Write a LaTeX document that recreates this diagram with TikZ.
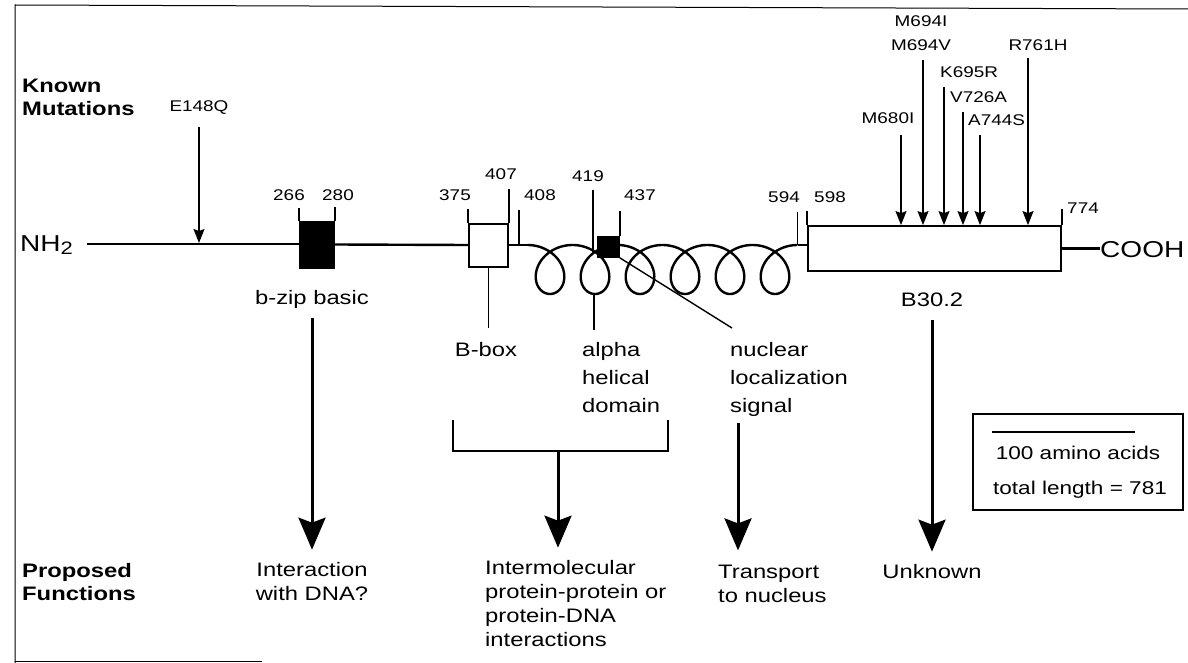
\documentclass[tikz,border=0pt]{standalone}
\usepackage{fontspec}
\setmainfont{Liberation Sans}[FakeStretch=1.22]
\usetikzlibrary{arrows.meta}
\tikzset{
 lbl/.style={font=\fontsize{19.5}{28}\selectfont, inner sep=0pt, align=left},
 lblc/.style={lbl, align=center},
 fun/.style={font=\fontsize{19.5}{24}\selectfont, inner sep=0pt, align=left},
 func/.style={fun, align=center},
 head/.style={font=\fontsize{19.5}{23}\selectfont\bfseries, inner sep=0pt, align=left},
 num/.style={font=\fontsize{15.5}{18}\selectfont, inner sep=0pt},
 mut/.style={font=\fontsize{15.5}{24}\selectfont, inner sep=0pt, align=center},
 term/.style={font=\fontsize{23}{26}\selectfont, inner sep=0pt},
 legtext/.style={font=\fontsize{18.5}{22}\selectfont, inner sep=0pt},
 backbone/.style={line width=2.4pt},
 tickline/.style={line width=1.6pt},
 domainbox/.style={draw, line width=1.8pt, inner sep=0pt},
 funarrow/.style={line width=3pt, -{Stealth[length=32pt,width=27pt,inset=5pt]}},
 mutarrow/.style={line width=1.3pt, -{Stealth[length=14pt,width=11pt,inset=2pt]}},
}
\begin{document}
\begin{tikzpicture}[x=1pt,y=-1pt]
\useasboundingbox (0,0) rectangle (1188,663);
% scanned frame
\draw[line width=1pt] (15,663) -- (15,5) -- (1188,9);
\draw[line width=1pt] (15,661) -- (262,661);

% headers (base anchor = last line)
\node[head, anchor=base west] (known) at (22,116) {Known\\Mutations};
\node[head, anchor=base west] (proposed) at (22,600) {Proposed\\Functions};

% terminals
\node[term, anchor=base west] (nh) at (20,251) {NH\raisebox{-3pt}{\fontsize{18}{18}\selectfont 2}};
\node[term, anchor=base west] (cooh) at (1100,257) {COOH};
\coordinate (l0) at (87,244);

% domains
\node[domainbox, fill=black, minimum width=34pt, minimum height=46pt] (bzip) at (317,245) {};
\node[domainbox, fill=white, minimum width=39pt, minimum height=43pt] (bbox) at (488.5,245.5) {};
\node[domainbox, fill=white, minimum width=253pt, minimum height=45pt] (b302) at (934.5,248.5) {};

% backbone
\coordinate (hs) at (527.5,245);
\coordinate (he) at (797.5,245);
\draw[backbone] (l0) -- (l0 -| bzip.west);
\draw[backbone] (bzip.east |- 0,244.5) -- (bbox.west |- 0,245);
\draw[backbone] (bbox.east |- hs) -- (hs);
\draw[backbone] plot[domain=-pi:11*pi, samples=500, smooth]
   ({550 + 7.162*\x - 24.5*sin(\x r)}, {269.5 + 24.5*cos(\x r)});
\draw[backbone] (he) -- (he -| b302.west);
\draw[backbone] (b302.east) -- (cooh.west |- b302.east);

% 419 line through helix and NLS box
\draw[tickline] (593,190) -- (593,253);
\node[domainbox, fill=black, minimum width=21pt, minimum height=20pt] (nls) at (608.5,247) {};

% ticks
\draw[tickline] (bzip.north west) -- ++(0,-13);
\draw[tickline] (bzip.north east) -- ++(0,-14);
\draw[tickline] (bbox.north west) -- ++(0,-14);
\draw[tickline] (bbox.north east) -- ++(0,-34);
\draw[tickline] (519,245) -- (519,210);
\draw[tickline] (nls.north east) -- ++(0,-25);
\draw[tickline] (he) -- ++(0,-33);
\draw[tickline] (b302.north west) -- ++(0,-14);
\draw[tickline] (b302.north east) -- ++(0,-16);

% residue numbers
\node[num, anchor=base] (n266) at (289,200.5) {266};
\node[num, anchor=base] (n280) at (338,200.5) {280};
\node[num, anchor=base] (n375) at (455,200.5) {375};
\node[num, anchor=base] (n407) at (501,179.5) {407};
\node[num, anchor=base] (n408) at (540,200.5) {408};
\node[num, anchor=base] (n419) at (588,181.5) {419};
\node[num, anchor=base] (n437) at (640,200.5) {437};
\node[num, anchor=base] (n594) at (784,202.5) {594};
\node[num, anchor=base] (n598) at (830,202.5) {598};
\node[num, anchor=base] (n774) at (1083,213.5) {774};

% mutations
\node[mut, anchor=base] (e148) at (199,112) {E148Q};
\node[mut, anchor=base] (m694) at (921,51) {M694I\\M694V};
\node[mut, anchor=base] (r761) at (1038,50.5) {R761H};
\node[mut, anchor=base west] (k695) at (940,77.5) {K695R};
\node[mut, anchor=base west] (v726) at (950,102.5) {V726A};
\node[mut, anchor=base] (m680) at (888,123.5) {M680I};
\node[mut, anchor=base west] (a744) at (968,125.5) {A744S};

\coordinate (ce148) at (199,127);
\coordinate (cm680) at (901,135);
\coordinate (cm694) at (923,60);
\coordinate (ck695) at (944,87);
\coordinate (cv726) at (963,112);
\coordinate (ca744) at (980,135);
\coordinate (cr761) at (1028,58);
\draw[mutarrow] (ce148) -- (ce148 |- 0,243);
\draw[mutarrow] (cm680) -- (cm680 |- b302.north);
\draw[mutarrow] (cm694) -- (cm694 |- b302.north);
\draw[mutarrow] (ck695) -- (ck695 |- b302.north);
\draw[mutarrow] (cv726) -- (cv726 |- b302.north);
\draw[mutarrow] (ca744) -- (ca744 |- b302.north);
\draw[mutarrow] (cr761) -- (cr761 |- b302.north);

% domain labels
\node[lblc, anchor=base] (bzlbl) at (312,304) {b-zip basic};
\node[lblc, anchor=base] (bboxlbl) at (486,356) {B-box};
\node[lbl, anchor=base west] (alpha) at (582,412) {alpha\\helical\\domain};
\node[lbl, anchor=base west] (nuclbl) at (730,412) {nuclear\\localization\\signal};
\node[lblc, anchor=base] (b302lbl) at (932,306) {B30.2};

\coordinate (lp) at (594,294);
\coordinate (nlsend) at (732,328);
\draw[tickline] (bbox.south) -- (bbox.south |- 0,328);
\draw[tickline] (lp) -- (lp |- 0,330);
\draw[line width=1.4pt] (nls.south east) -- (nlsend);

% bracket
\coordinate (brl) at (453,420);
\coordinate (brr) at (668,420);
\coordinate (brb) at (558,451);
\draw[line width=2pt] (brl) |- (brb) -| (brr);

% function labels (base anchor = last line)
\node[func, anchor=base] (inter) at (312,600) {Interaction\\with DNA?};
\node[fun, anchor=base west] (intermol) at (485,646) {Intermolecular\\protein-protein or\\protein-DNA\\interactions};
\node[fun, anchor=base west] (transp) at (718,602) {Transport\\to nucleus};
\node[func, anchor=base] (unk) at (932,578) {Unknown};

% function arrows
\coordinate (trs) at (738,423);
\draw[funarrow, shorten <=10pt, shorten >=12pt] (bzlbl.south) -- (inter.north);
\draw[funarrow, shorten >=12pt] (brb) -- (brb |- intermol.north);
\draw[funarrow, shorten >=14pt] (trs) -- (trs |- transp.north);
\draw[funarrow, shorten <=14pt, shorten >=12pt] (b302lbl.south) -- (unk.north);

% legend
\node[draw, line width=1.5pt, minimum width=210pt, minimum height=96pt] (legend) at (1078,462) {};
\draw[line width=2.2pt] (992,432) -- (1135,432);
\node[legtext, anchor=base] (leg1) at (1078,459.5) {100 amino acids};
\node[legtext, anchor=base] (leg2) at (1080,494.5) {total length = 781};
\end{tikzpicture}
\end{document}
